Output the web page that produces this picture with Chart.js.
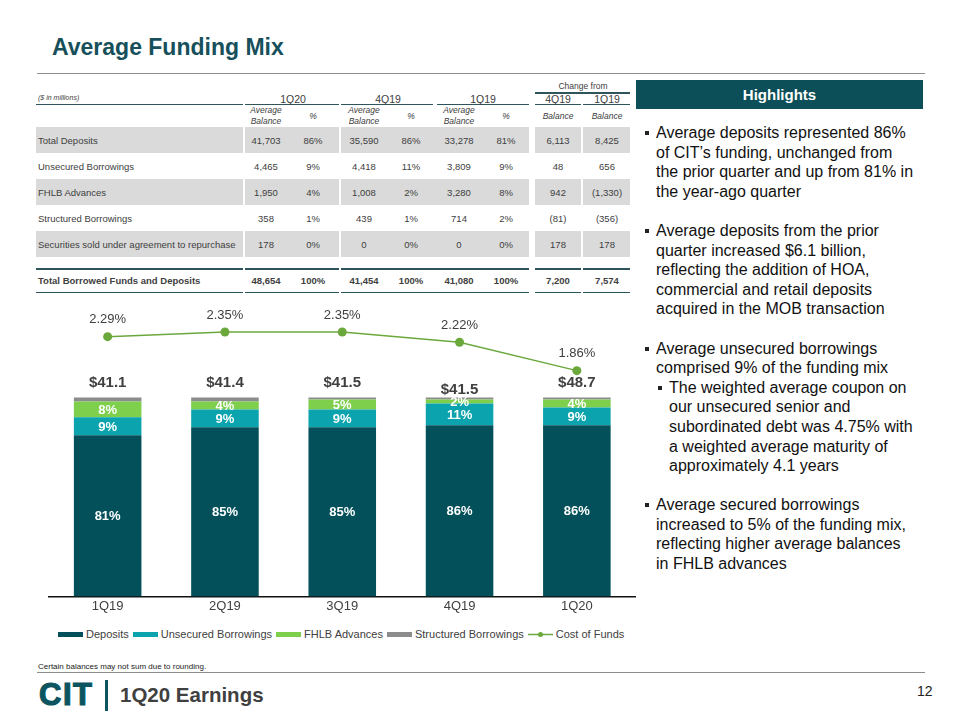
<!DOCTYPE html>
<html>
<head>
<meta charset="utf-8">
<script src="https://cdn.jsdelivr.net/npm/chart.js@4.4.1/dist/chart.umd.min.js"></script>
<style>
  body { margin: 0; width: 960px; height: 720px; position: relative; background: #fff; overflow: hidden;
         font-family: "Liberation Sans", Arial, sans-serif; color: #404040; }
  .abs { position: absolute; white-space: nowrap; }
  .c { transform: translate(-50%, -50%); text-align: center; }
  .l { transform: translateY(-50%); }
  .rule { position: absolute; background: #8c8c8c; height: 1px; }
  .tl { position: absolute; background: #2d555b; height: 1.5px; }
  .band { position: absolute; background: #dadada; }
  #hl { position: absolute; left: 636px; top: 80px; width: 287px; height: 29px; background: #0d4f58;
        color: #fff; font-weight: bold; font-size: 15px; line-height: 29px; text-align: center; }
  #bul { position: absolute; left: 645px; top: 123px; font-size: 16px; line-height: 19.6px; color: #111; }
  #bul p { margin: 0 0 19.6px 0; position: relative; padding-left: 11px; white-space: nowrap; }
  #bul p.sub { margin-left: 13px; }
  #bul p.tight { margin-bottom: 0; }
  #bul p::before { content: ""; position: absolute; left: 0; top: 8px; width: 4px; height: 4px; background: #222; }
  #legend { position: absolute; top: 627px; left: 55px; height: 14px; display: flex; align-items: center;
            font-size: 11px; color: #404040; }
  #legend span.sw { display: inline-block; width: 25px; height: 5px; margin: 0 3px 0 3px; }
</style>
</head>
<body>
<div class="abs l" style="left:52px; top:47px; font-size:23px; font-weight:bold; color:#17505a;">Average Funding Mix</div>
<div class="rule" style="left:37px; width:888px; top:73px;"></div>

<div id="table"></div>

<div id="hl">Highlights</div>
<div id="bul">
  <p>Average deposits represented 86%<br>of CIT’s funding, unchanged from<br>the prior quarter and up from 81% in<br>the year-ago quarter</p>
  <p>Average deposits from the prior<br>quarter increased $6.1 billion,<br>reflecting the addition of HOA,<br>commercial and retail deposits<br>acquired in the MOB transaction</p>
  <p class="tight">Average unsecured borrowings<br>comprised 9% of the funding mix</p>
  <p class="sub">The weighted average coupon on<br>our unsecured senior and<br>subordinated debt was 4.75% with<br>a weighted average maturity of<br>approximately 4.1 years</p>
  <p>Average secured borrowings<br>increased to 5% of the funding mix,<br>reflecting higher average balances<br>in FHLB advances</p>
</div>

<canvas id="mixChart" width="640" height="326" style="position:absolute; left:0; top:290px;"></canvas>
<div id="legend"></div>

<div class="abs l" style="left:38px; top:666px; font-size:8px; color:#222;">Certain balances may not sum due to rounding.</div>
<div class="rule" style="left:37px; width:888px; top:672px;"></div>
<div class="abs l" style="left:39px; top:695px; font-size:31px; font-weight:bold; color:#0c5560; letter-spacing:1.5px; -webkit-text-stroke:1.2px #0c5560;">CIT</div>
<div class="abs" style="left:105px; top:680px; width:3px; height:31px; background:#0c5560;"></div>
<div class="abs l" style="left:120px; top:695px; font-size:20.5px; font-weight:bold; color:#404040;">1Q20 Earnings</div>
<div class="abs l" style="left:917px; top:691px; font-size:14px; color:#222;">12</div>

<script>
// chart data
const quarters = ["1Q19", "2Q19", "3Q19", "4Q19", "1Q20"];
const depositsPct = [81, 85, 85, 86, 86];
const unsecuredPct = [9, 9, 9, 11, 9];
const fhlbPct = [8, 4, 5, 2, 4];
const structuredPct = [2, 2, 1, 1, 1];
const costOfFunds = [2.29, 2.35, 2.35, 2.22, 1.86];
const totalBalances = [41.1, 41.4, 41.5, 41.5, 48.7];

// table data ($ in millions)
const rowNames = ["Total Deposits", "Unsecured Borrowings", "FHLB Advances", "Structured Borrowings",
                  "Securities sold under agreement to repurchase"];
const bal1Q20 = ["41,703", "4,465", "1,950", "358", "178"];
const pct1Q20 = ["86%", "9%", "4%", "1%", "0%"];
const bal4Q19 = ["35,590", "4,418", "1,008", "439", "0"];
const pct4Q19 = ["86%", "11%", "2%", "1%", "0%"];
const bal1Q19 = ["33,278", "3,809", "3,280", "714", "0"];
const pct1Q19 = ["81%", "9%", "8%", "2%", "0%"];
const chg4Q19 = ["6,113", "48", "942", "(81)", "178"];
const chg1Q19 = ["8,425", "656", "(1,330)", "(356)", "178"];
const totalRow = ["48,654", "100%", "41,454", "100%", "41,080", "100%", "7,200", "7,574"];

const COLORS = {
    deposits: "#03505b",
    unsecured: "#0ba4ae",
    fhlb: "#7dcf4c",
    structured: "#8c8c8c",
    cof: "#6aa83c"
};

// ---- table ----
const tbl = document.getElementById("table");
function put(text, x, y, style, left) {
    const d = document.createElement("div");
    d.className = "abs " + (left ? "l" : "c");
    d.style.left = x + "px";
    d.style.top = y + "px";
    d.style.cssText += style || "";
    d.innerHTML = text;
    tbl.appendChild(d);
}
function box(cls, x1, x2, y, h) {
    const d = document.createElement("div");
    d.className = cls;
    d.style.left = x1 + "px";
    d.style.width = (x2 - x1) + "px";
    d.style.top = y + "px";
    if (h) d.style.height = h + "px";
    tbl.appendChild(d);
}

const cellSpans = [[36, 243], [245, 339], [341, 529], [535, 581], [583, 630]];
const colX = [266, 313, 364, 411, 459, 506, 558, 607];
const rowY = [140, 166, 192, 218, 244];

rowY.forEach(function (y, r) {
    if (r % 2 === 0) cellSpans.forEach(s => box("band", s[0], s[1], y - 13, 26));
});
[[36, 243], [245, 339], [341, 433], [437, 529], [535, 581], [583, 630]].forEach(s => box("tl", s[0], s[1], 103.5));
box("tl", 535, 630, 92);
cellSpans.forEach(s => { box("tl", s[0], s[1], 268); box("tl", s[0], s[1], 291.5); });

put("($ in millions)", 38, 97, "font-size:7px;font-style:italic;", true);
put("Change from", 583, 86, "font-size:8.5px;");
[["1Q20", 293], ["4Q19", 388], ["1Q19", 483], ["4Q19", 558], ["1Q19", 607]].forEach(h => put(h[0], h[1], 99, "font-size:10.5px;"));
[266, 364, 459].forEach(x => put("Average<br>Balance", x, 116, "font-size:8.5px;font-style:italic;line-height:11px;"));
[313, 411, 506].forEach(x => put("%", x, 116, "font-size:8.5px;font-style:italic;"));
[558, 607].forEach(x => put("Balance", x, 116, "font-size:8.5px;font-style:italic;"));

const cols = [bal1Q20, pct1Q20, bal4Q19, pct4Q19, bal1Q19, pct1Q19, chg4Q19, chg1Q19];
rowNames.forEach(function (name, r) {
    put(name, 38, rowY[r], "font-size:9.5px;", true);
    cols.forEach((col, c) => put(col[r], colX[c], rowY[r], "font-size:9.5px;"));
});
put("Total Borrowed Funds and Deposits", 38, 280, "font-size:9.5px;font-weight:bold;", true);
totalRow.forEach((v, c) => put(v, colX[c], 280, "font-size:9.5px;font-weight:bold;"));

// ---- chart ----
const FONT = "'Liberation Sans', Arial, sans-serif";

const labelPlugin = {
    id: "mixLabels",
    afterDatasetsDraw(chart) {
        const ctx = chart.ctx;
        ctx.save();
        ctx.textAlign = "center";
        ctx.textBaseline = "middle";

        ctx.fillStyle = "#ffffff";
        ctx.font = "bold 13px " + FONT;
        [0, 1, 2].forEach(function (di) {
            chart.getDatasetMeta(di).data.forEach(function (bar, i) {
                ctx.fillText(chart.data.datasets[di].data[i] + "%", bar.x, (bar.y + bar.base) / 2 + 1);
            });
        });

        ctx.fillStyle = "#404040";
        ctx.font = "bold 15px " + FONT;
        chart.getDatasetMeta(3).data.forEach(function (bar, i) {
            const nudge = i === 3 ? 7 : 0;
            ctx.fillText("$" + totalBalances[i].toFixed(1), bar.x, bar.y - 15 + nudge);
        });

        ctx.font = "13px " + FONT;
        chart.getDatasetMeta(4).data.forEach(function (pt, i) {
            ctx.fillText(costOfFunds[i].toFixed(2) + "%", pt.x, pt.y - 17);
        });
        ctx.restore();
    }
};

const chart = new Chart(document.getElementById("mixChart"), {
    type: "bar",
    data: {
        labels: quarters,
        datasets: [
            { label: "Deposits", data: depositsPct, backgroundColor: COLORS.deposits, order: 1 },
            { label: "Unsecured Borrowings", data: unsecuredPct, backgroundColor: COLORS.unsecured, order: 1 },
            { label: "FHLB Advances", data: fhlbPct, backgroundColor: COLORS.fhlb, order: 1 },
            { label: "Structured Borrowings", data: structuredPct, backgroundColor: COLORS.structured, order: 1 },
            {
                type: "line",
                label: "Cost of Funds",
                data: costOfFunds,
                yAxisID: "y2",
                borderColor: COLORS.cof,
                backgroundColor: COLORS.cof,
                borderWidth: 1.5,
                pointRadius: 4.5,
                pointBorderWidth: 0,
                tension: 0,
                order: 0
            }
        ]
    },
    options: {
        responsive: false,
        animation: false,
        barPercentage: 0.576,
        categoryPercentage: 1,
        layout: { padding: { left: 49, right: 1, top: 8, bottom: 0 } },
        plugins: {
            legend: { display: false },
            tooltip: { enabled: false }
        },
        scales: {
            x: {
                stacked: true,
                grid: { display: false, drawTicks: false },
                border: { color: "#111", width: 1.5 },
                ticks: { color: "#404040", font: { size: 13, family: FONT }, padding: 2 }
            },
            y: { stacked: true, display: false, min: 0, max: 150 },
            y2: { display: false, min: -1, max: 2.78 }
        }
    },
    plugins: [labelPlugin]
});

// legend built from the chart's datasets
const legend = document.getElementById("legend");
chart.data.datasets.forEach(function (ds, i) {
    const item = document.createElement("span");
    item.style.display = "inline-flex";
    item.style.alignItems = "center";
    item.style.marginRight = "1px";
    if (ds.type === "line") {
        item.innerHTML = '<svg width="25" height="9" style="margin:0 3px"><line x1="0" y1="4.5" x2="25" y2="4.5" stroke="' +
            ds.borderColor + '" stroke-width="1.5"/><circle cx="12.5" cy="4.5" r="2.5" fill="' + ds.borderColor + '"/></svg>';
    } else {
        item.innerHTML = '<span class="sw" style="background:' + ds.backgroundColor + '"></span>';
    }
    item.appendChild(document.createTextNode(ds.label));
    legend.appendChild(item);
});
</script>
</body>
</html>
